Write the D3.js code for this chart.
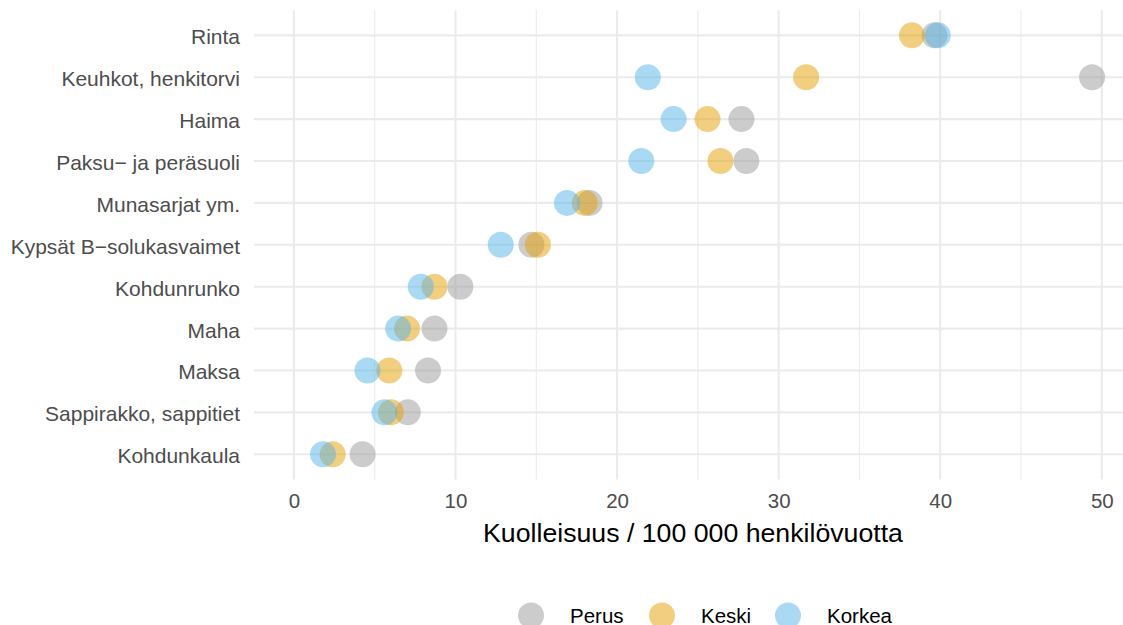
<!DOCTYPE html>
<html><head><meta charset="utf-8">
<script src="https://cdn.jsdelivr.net/npm/d3@7"></script>
<style>body{margin:0;background:#fff}svg{display:block;font-family:"Liberation Sans",Arial,sans-serif}</style>
</head><body><svg id="c" width="1123" height="625"></svg>
<script>
const categories = ["Rinta","Keuhkot, henkitorvi","Haima","Paksu\u2212 ja peräsuoli","Munasarjat ym.","Kypsät B\u2212solukasvaimet","Kohdunrunko","Maha","Maksa","Sappirakko, sappitiet","Kohdunkaula"];
const seriesNames = ["Perus","Keski","Korkea"];
const perus  = [39.65, 49.4, 27.7, 28.0, 18.3, 14.7, 10.3, 8.7, 8.3, 7.05, 4.25];
const keski  = [38.25, 31.7, 25.6, 26.4, 18.0, 15.1, 8.7, 7.0, 5.9, 6.0, 2.4];
const korkea = [39.85, 21.9, 23.5, 21.5, 16.9, 12.8, 7.85, 6.45, 4.55, 5.6, 1.8];
const xTicks = [0,10,20,30,40,50];
const xMinor = [5,15,25,35,45];
const colors = ["#999999","#E69F00","#56B4E9"];
const xTitle = "Kuolleisuus / 100 000 henkilövuotta";

const svg = d3.select("#c");
const panel = {left:254, right:1132, top:10.2, bottom:479.4};
const allVals = perus.concat(keski, korkea, [0]);
const [mn, mx] = d3.extent(allVals);
const pad = (mx - mn) * 0.05;
const x = d3.scaleLinear().domain([mn - pad, mx + pad]).range([panel.left, panel.right]);
const y = d3.scalePoint().domain(categories).range([panel.top, panel.bottom]).padding(0.6);

const grid = svg.append("g");
grid.selectAll("line.minor").data(xMinor).join("line")
  .attr("x1", d=>x(d)).attr("x2", d=>x(d)).attr("y1", panel.top).attr("y2", panel.bottom)
  .attr("stroke","#ebebeb").attr("stroke-width",1.1);
grid.selectAll("line.majx").data(xTicks).join("line")
  .attr("x1", d=>x(d)).attr("x2", d=>x(d)).attr("y1", panel.top).attr("y2", panel.bottom)
  .attr("stroke","#ebebeb").attr("stroke-width",2.1);
grid.selectAll("line.majy").data(categories).join("line")
  .attr("x1", panel.left).attr("x2", panel.right).attr("y1", d=>y(d)).attr("y2", d=>y(d))
  .attr("stroke","#ebebeb").attr("stroke-width",2.1);

const xAxis = svg.append("g").attr("transform",`translate(0,${panel.bottom})`)
  .call(d3.axisBottom(x).tickValues(xTicks).tickSize(0).tickPadding(0).tickFormat(d3.format("d")));
xAxis.select(".domain").remove();
xAxis.selectAll("text").attr("y", 28.6).attr("dy", null)
  .attr("font-size", 20.5).attr("fill","#4d4d4d").attr("font-family","Liberation Sans, Arial, sans-serif");

const yAxis = svg.append("g").attr("transform",`translate(${panel.left},0)`)
  .call(d3.axisLeft(y).tickSize(0).tickPadding(0));
yAxis.select(".domain").remove();
yAxis.selectAll("text").attr("x", -14).attr("dy", null).attr("y", 8.5)
  .attr("font-size", 21).attr("fill","#4d4d4d").attr("text-anchor","end")
  .attr("font-family","Liberation Sans, Arial, sans-serif");

const series = [perus, keski, korkea];
series.forEach((vals, si) => {
  svg.append("g").selectAll("circle").data(vals).join("circle")
    .attr("cx", d=>x(d)).attr("cy", (d,i)=>y(categories[i])).attr("r", 13)
    .attr("fill", colors[si]).attr("fill-opacity", 0.5);
});

svg.append("text").attr("x", (panel.left+panel.right)/2).attr("y", 541.5)
  .attr("text-anchor","middle").attr("font-size",26.7).attr("fill","#000").text(xTitle);

const legX = [531, 662, 788];
const lg = svg.append("g");
seriesNames.forEach((n,i)=>{
  lg.append("circle").attr("cx", legX[i]).attr("cy", 615.5).attr("r", 13)
    .attr("fill", colors[i]).attr("fill-opacity",0.5);
  lg.append("text").attr("x", legX[i]+39).attr("y", 622.5).attr("font-size",20.5)
    .attr("fill","#000").text(n);
});
</script></body></html>
